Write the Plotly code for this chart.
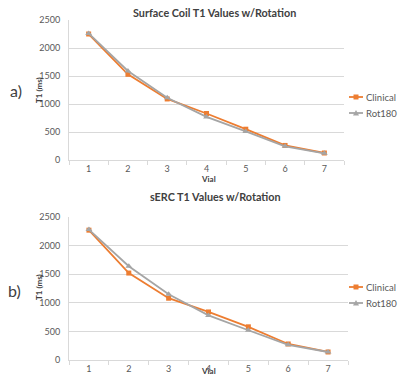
import plotly.graph_objects as go

vials = ["1", "2", "3", "4", "5", "6", "7"]
surface_clinical = [2250, 1530, 1090, 830, 550, 260, 125]
surface_rot180 = [2260, 1590, 1110, 770, 510, 245, 120]
serc_clinical = [2270, 1520, 1080, 840, 580, 280, 140]
serc_rot180 = [2280, 1640, 1150, 780, 520, 265, 140]
series_names = ["Clinical", "Rot180"]

ORANGE = "#ED7D31"
GREY = "#A5A5A5"
FONT = "Lato"
TXT = "#595959"

fig = go.Figure()

def add_pair(clin, rot, xa, ya):
    fig.add_trace(go.Scatter(x=vials, y=clin, name=series_names[0], mode="lines+markers",
                             line=dict(color=ORANGE, width=1.8),
                             marker=dict(symbol="square", size=5, color=ORANGE),
                             xaxis=xa, yaxis=ya, showlegend=False))
    fig.add_trace(go.Scatter(x=vials, y=rot, name=series_names[1], mode="lines+markers",
                             line=dict(color=GREY, width=1.8),
                             marker=dict(symbol="triangle-up", size=6, color=GREY),
                             xaxis=xa, yaxis=ya, showlegend=False))

add_pair(surface_clinical, surface_rot180, "x", "y")
add_pair(serc_clinical, serc_rot180, "x2", "y2")

H = 377.0
W = 400.0

def xaxis_cfg(dom, anchor):
    return dict(domain=dom, anchor=anchor, type="category", range=[-0.5, 6.5],
                showline=True, linecolor="#D9D9D9", linewidth=1,
                ticks="outside", tickson="boundaries", ticklen=4, tickcolor="#D9D9D9",
                showgrid=False, tickfont=dict(family=FONT, size=9, color=TXT),
                fixedrange=True)

def yaxis_cfg(dom, anchor):
    return dict(domain=dom, anchor=anchor, range=[0, 2500], dtick=500,
                showline=True, linecolor="#D9D9D9", linewidth=1,
                showgrid=True, gridcolor="#D9D9D9", gridwidth=1, zeroline=False,
                ticks="", tickfont=dict(family=FONT, size=9, color=TXT),
                ticklabelstandoff=6, fixedrange=True)

fig.update_layout(
    width=400, height=377,
    margin=dict(l=0, r=0, t=0, b=0, autoexpand=False),
    paper_bgcolor="white", plot_bgcolor="white",
    xaxis=xaxis_cfg([69 / W, 344 / W], "y"),
    yaxis=yaxis_cfg([(H - 160) / H, (H - 20) / H], "x"),
    xaxis2=xaxis_cfg([69 / W, 348 / W], "y2"),
    yaxis2=yaxis_cfg([(H - 360) / H, (H - 217) / H], "x2"),
    showlegend=False,
)

ann = []
shapes = []
def px(x):
    return x / W
def py(y):
    return (H - y) / H

def text(x, y, s, size=9, bold=False, angle=0, color=TXT, xanchor="center"):
    ann.append(dict(x=px(x), y=py(y), xref="paper", yref="paper",
                    text=("<b>%s</b>" % s) if bold else s, showarrow=False,
                    textangle=angle, xanchor=xanchor, yanchor="middle",
                    font=dict(family=FONT, size=size, color=color)))

def legend_item(y, name, color, symbol):
    shapes.append(dict(type="line", xref="paper", yref="paper",
                       x0=px(349), x1=px(363), y0=py(y), y1=py(y),
                       line=dict(color=color, width=1.8)))
    if symbol == "square":
        shapes.append(dict(type="rect", xref="paper", yref="paper",
                           x0=px(353.5), x1=px(358.5), y0=py(y - 2.5), y1=py(y + 2.5),
                           fillcolor=color, line=dict(width=0)))
    else:
        path = "M %f %f L %f %f L %f %f Z" % (px(356), py(y - 3), px(353), py(y + 2.5), px(359), py(y + 2.5))
        shapes.append(dict(type="path", xref="paper", yref="paper", path=path,
                           fillcolor=color, line=dict(width=0)))
    text(364, y, name, size=9.5, xanchor="left")

legend_item(97, series_names[0], ORANGE, "square")
legend_item(113, series_names[1], GREY, "triangle")
legend_item(287, series_names[0], ORANGE, "square")
legend_item(303, series_names[1], GREY, "triangle")

text(214, 12, "Surface Coil T1 Values w/Rotation", size=10.8, bold=True, color="#404040")
text(215, 196, "sERC T1 Values w/Rotation", size=10.8, bold=True, color="#404040")
text(208, 179, "Vial", size=8, bold=True, color="#404040")
text(208, 371, "Vial", size=8, bold=True, color="#404040")
text(39, 90, "T1 (ms)", size=8, bold=True, angle=-90, color="#404040")
text(39, 287, "T1 (ms)", size=8, bold=True, angle=-90, color="#404040")
text(16, 90, "a)", size=16, color="#404040")
text(14, 290, "b)", size=16, color="#404040")
fig.update_layout(annotations=ann, shapes=shapes)

fig.write_html("out.html", config={"displayModeBar": False, "staticPlot": True},
               post_script="document.body.style.margin='0';document.body.style.overflow='hidden';")
